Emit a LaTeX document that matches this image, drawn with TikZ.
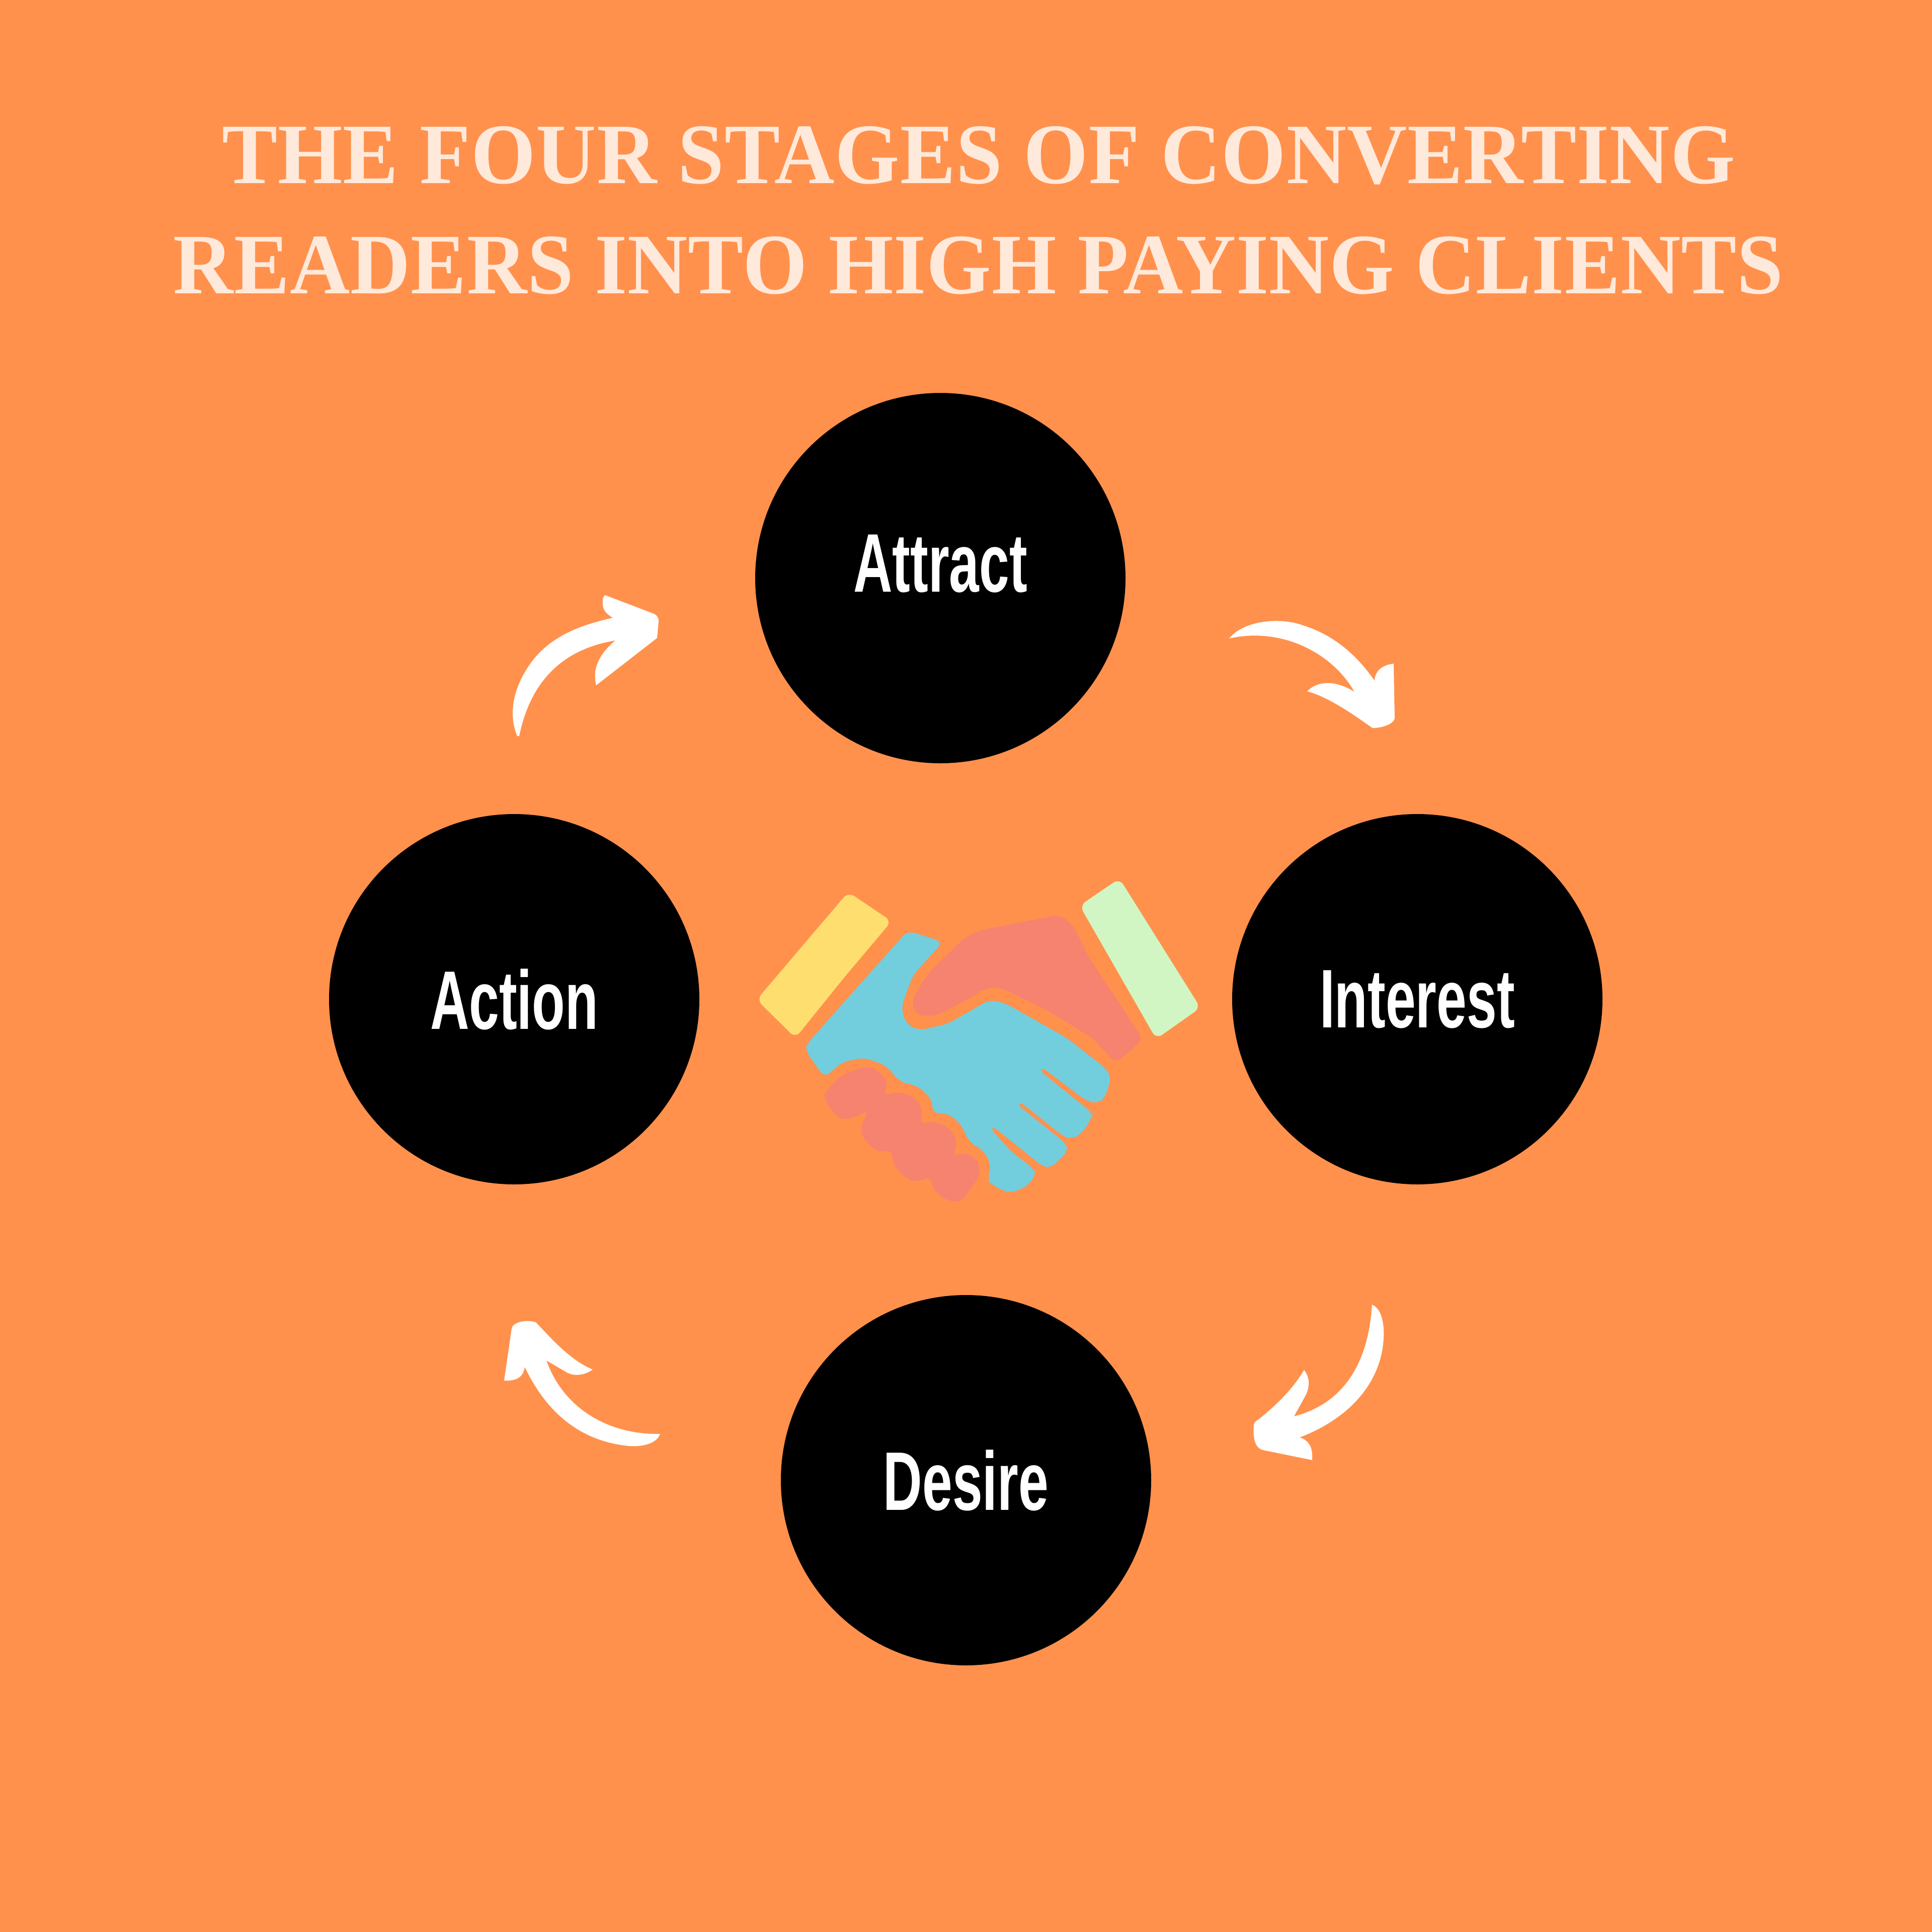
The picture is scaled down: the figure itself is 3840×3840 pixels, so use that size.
\documentclass[tikz,border=0pt]{standalone}
\usepackage{fontspec}
\usepackage{xcolor}
\usetikzlibrary{positioning}
\setmainfont{Liberation Serif}
\newfontfamily\stagefont[FakeStretch=0.65]{Liberation Sans}
\newfontfamily\titlefont[FakeStretch=0.965,LetterSpace=0.6]{Liberation Serif}
\definecolor{pagebg}{HTML}{FF914D}
\definecolor{titlecol}{HTML}{FFE9DA}
\definecolor{cuffyellow}{HTML}{FFDE70}
\definecolor{cuffgreen}{HTML}{D1F6C3}
\definecolor{handblue}{HTML}{72CEDD}
\definecolor{handred}{HTML}{F5836F}
\tikzset{
	stage/.style={circle,fill=black,text=white,minimum size=73.6mm,inner sep=0pt,on grid,font=\stagefont\bfseries\fontsize{47}{47}\selectfont},
	sweep/.style={fill=white},
	handpart/.style={rounded corners=4pt}
}
\begin{document}
\begin{tikzpicture}[x=0.1mm,y=-0.1mm]
	\fill[pagebg] (0,0) rectangle (3840,3840);
	\useasboundingbox (0,0) rectangle (3840,3840);

	\node[text=titlecol,align=center,font=\titlefont\bfseries\fontsize{48.7}{62.4}\selectfont] (title) at (1945,418) {THE FOUR STAGES OF CONVERTING\\READERS INTO HIGH PAYING CLIENTS};

	\node[stage,text depth=5.8mm] (attract) at (1869,1149) {Attract};
	\node[stage] (interest) [below right=83.7mm and 94.8mm of attract] {Interest};
	\node[stage] (action) [below left=83.7mm and 84.7mm of attract] {Action};
	\node[stage] (desire) [below right=179.3mm and 5.1mm of attract] {Desire};

	\coordinate (actionout) at ([shift={(6,-523)}]action);
	\coordinate (attractin) at ([shift={(-560,86)}]attract);
	\coordinate (attractout) at ([shift={(574,120)}]attract);
	\coordinate (interestin) at ([shift={(-45,-559)}]interest);
	\coordinate (interestout) at ([shift={(-90,607)}]interest);
	\coordinate (desirein) at ([shift={(572,-109)}]desire);
	\coordinate (desireout) at ([shift={(-608,-92)}]desire);
	\coordinate (actionin) at ([shift={(-5,654)}]action);

	\fill[sweep] (actionout) .. controls (1010,1420) and (1020,1370) .. (1050,1325) .. controls (1085,1272) and (1140,1245) .. (1218,1228) .. controls (1205,1220) and (1198,1212) .. (1198,1200) .. controls (1197,1190) and (1199,1185) .. (1203,1183) -- (1300,1220) .. controls (1307,1224) and (1309,1228) .. (attractin) -- (1306,1268) -- (1185,1362) .. controls (1178,1335) and (1185,1305) .. (1223,1273) .. controls (1150,1285) and (1060,1325) .. (1032,1463) -- cycle;
	\fill[sweep] (attractout) .. controls (2470,1235) and (2540,1225) .. (2590,1243) .. controls (2650,1262) and (2695,1300) .. (2732,1353) .. controls (2733,1335) and (2745,1322) .. (2770,1319) -- (interestin) .. controls (2772,1437) and (2750,1447) .. (2728,1447) .. controls (2690,1420) and (2640,1385) .. (2598,1374) .. controls (2620,1352) and (2655,1352) .. (2692,1375) .. controls (2650,1300) and (2550,1245) .. (attractout) -- cycle;
	\fill[sweep] (interestout) .. controls (2745,2600) and (2752,2630) .. (2750,2660) .. controls (2745,2750) and (2680,2820) .. (2583,2857) .. controls (2600,2862) and (2610,2875) .. (2608,2902) -- (2510,2882) .. controls (2495,2878) and (2490,2860) .. (desirein) .. controls (2492,2828) and (2495,2825) .. (2503,2820) .. controls (2540,2790) and (2570,2760) .. (2592,2723) .. controls (2605,2740) and (2603,2760) .. (2593,2777) -- (2572,2815) .. controls (2650,2795) and (2718,2735) .. (interestout) -- cycle;
	\fill[sweep] (desireout) .. controls (1305,2870) and (1275,2876) .. (1250,2874) .. controls (1160,2865) and (1090,2815) .. (1043,2717) .. controls (1040,2735) and (1030,2745) .. (1002,2744) -- (actionin) .. controls (1020,2628) and (1045,2622) .. (1065,2628) .. controls (1095,2660) and (1135,2705) .. (1178,2722) .. controls (1160,2735) and (1140,2735) .. (1127,2728) -- (1086,2704) .. controls (1120,2800) and (1210,2852) .. (desireout) -- cycle;

	\fill[cuffyellow,handpart] (1686,1773) -- (1772,1831) -- (1676,1945) -- (1581,2063) -- (1504,1987) -- cycle;
	\fill[cuffgreen,handpart] (2225,1746) -- (2386,2003) -- (2298,2065) -- (2146,1800) -- cycle;
	\fill[handred,handpart] (2107,1818) -- (2132,1838) -- (2164,1902) -- (2272,2066) -- (2218,2113) -- (2171,2063) -- (2088,2012) -- (1986,1962) -- (1960,1964) -- (1922,1987) -- (1865,2017) -- (1833,2021) -- (1814,2008) -- (1814,1985) -- (1845,1934) -- (1916,1865) -- (1947,1849) -- cycle;
	\fill[handblue,handpart] (1804,1850) -- (1874,1872) -- (1814,1939) -- (1791,2003) -- (1801,2035) -- (1826,2048) -- (1884,2035) -- (1967,1987) -- (1998,1994) -- (2120,2063) -- (2196,2122) -- (2209,2141) -- (2196,2182) -- (2180,2194) -- (2158,2187) -- (2068,2119) -- (2065,2127) -- (2171,2212) -- (2171,2219) -- (2152,2251) -- (2129,2265) -- (2113,2258) -- (2024,2187) -- (2020,2194) -- (2120,2274) -- (2123,2288) -- (2088,2322) -- (2072,2318) -- (1970,2236) -- (1967,2242) -- (2011,2290) -- (2056,2324) -- (2059,2336) -- (2040,2359) -- (2005,2372) -- (1967,2352) -- (1963,2345) -- (1970,2315) -- (1954,2285) -- (1928,2272) -- (1909,2233) -- (1884,2213) -- (1852,2212) -- (1855,2189) -- (1826,2159) -- (1788,2150) -- (1762,2118) -- (1718,2102) -- (1673,2111) -- (1639,2142) -- (1601,2088) -- (1603,2076) -- cycle;
	\fill[handred,handpart] (1638,2173) -- (1673,2136) -- (1718,2120) -- (1743,2125) -- (1766,2152) -- (1755,2178) -- (1788,2169) -- (1820,2182) -- (1836,2210) -- (1826,2235) -- (1858,2228) -- (1890,2244) -- (1903,2269) -- (1893,2299) -- (1922,2290) -- (1947,2311) -- (1947,2338) -- (1909,2391) -- (1877,2384) -- (1852,2361) -- (1849,2336) -- (1826,2350) -- (1801,2343) -- (1775,2315) -- (1772,2283) -- (1750,2292) -- (1724,2274) -- (1708,2246) -- (1727,2205) -- (1699,2221) -- (1673,2226) -- (1654,2210) -- (1638,2182) -- cycle;
\end{tikzpicture}
\end{document}
